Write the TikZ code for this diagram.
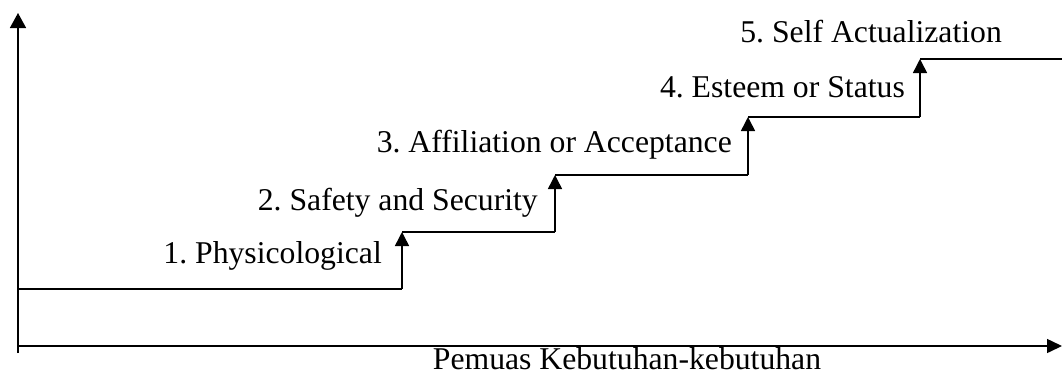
\documentclass[tikz,border=0pt]{standalone}
\usepackage{fontspec}
\setmainfont{Liberation Serif}
\usetikzlibrary{arrows.meta}
\begin{document}
\frenchspacing
\begin{tikzpicture}[x=1pt,y=-1pt,
  line/.style={line width=1.5pt,line join=miter},
  steparr/.style={line,-{Triangle[length=14pt,width=14pt]}},
  lbl/.style={anchor=base east,inner sep=0pt,font=\fontsize{31.7}{38}\selectfont}]
\useasboundingbox (0,0) rectangle (1062,375);
% axes
\coordinate (ybot) at (18,353);
\coordinate (ytop) at (18,13);
\coordinate (xo) at (18,346);
\coordinate (xend) at (1062,346);
\draw[line,-{Triangle[length=15pt,width=16pt]}] (ybot) -- (ytop);
\draw[line,-{Triangle[length=15pt,width=14pt]}] (xo) -- (xend);
% stair points
\coordinate (s0) at (18,289);
\coordinate (b1) at (402,289);
\coordinate (t1) at (402,232);
\coordinate (b2) at (555,232);
\coordinate (t2) at (555,175);
\coordinate (b3) at (748,175);
\coordinate (t3) at (748,117);
\coordinate (b4) at (920,117);
\coordinate (t4) at (920,59);
\coordinate (e5) at (1062,59);
\draw[line] (s0) -- (b1);
\draw[steparr] (b1) -- (t1);
\draw[line] (t1) -- (b2);
\draw[steparr] (b2) -- (t2);
\draw[line] (t2) -- (b3);
\draw[steparr] (b3) -- (t3);
\draw[line] (t3) -- (b4);
\draw[steparr] (b4) -- (t4);
\draw[line] (t4) -- (e5);
% labels
\node[lbl] (l1) at (382,263) {1. Physicological};
\node[lbl] (l2) at (538,210) {2. Safety and Security};
\node[lbl] (l3) at (732,152) {3. Affiliation or Acceptance};
\node[lbl] (l4) at (905,97) {4. Esteem or Status};
\node[lbl] (l5) at (1002,42) {5. Self Actualization};
\node[lbl,anchor=base] (xl) at (627,369) {Pemuas Kebutuhan-kebutuhan};
\end{tikzpicture}
\end{document}
